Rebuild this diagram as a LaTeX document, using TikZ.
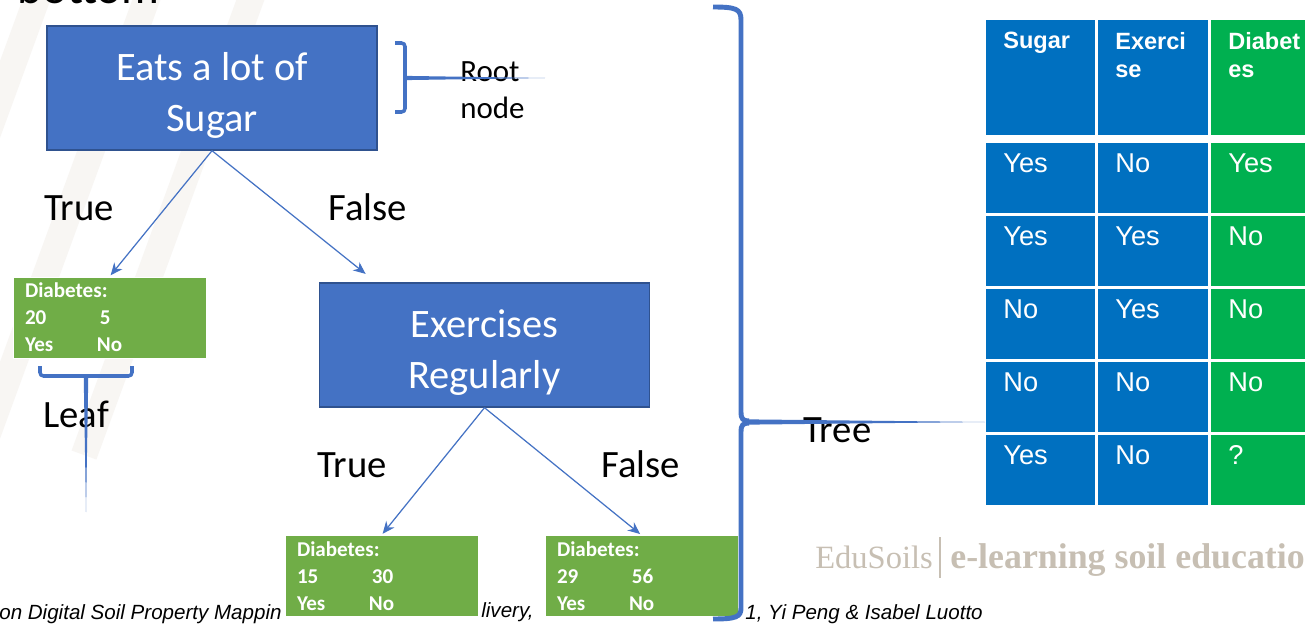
\documentclass[tikz,border=0pt]{standalone}
\usepackage{fontspec}
\setmainfont{Carlito}
\newfontfamily\arialfont{Liberation Sans}
\newfontfamily\timesfont{Liberation Serif}
\usetikzlibrary{arrows.meta}

\definecolor{nodeblue}{RGB}{68,114,196}
\definecolor{nodeedge}{RGB}{47,82,143}
\definecolor{leafgreen}{RGB}{112,173,71}
\definecolor{tabblue}{RGB}{0,112,192}
\definecolor{tabgreen}{RGB}{0,176,80}
\definecolor{logogray}{RGB}{199,191,179}
\definecolor{stripecol}{RGB}{248,246,243}

\newcommand{\toppad}{\rule{0pt}{0.85cm}}

\begin{document}
\begin{tikzpicture}[x=0.02cm, y=-0.02cm,
    decision/.style={draw=nodeedge, line width=0.8pt, fill=nodeblue, text=white, minimum width=6.6cm, minimum height=2.48cm, align=center, font=\fontsize{23}{29.3}\selectfont},
    leafbox/.style={draw=white, line width=0.4pt, fill=leafgreen, text=white, text width=3.38cm, inner xsep=0.24cm, minimum height=1.62cm, align=left, font=\bfseries\fontsize{12}{15.3}\selectfont},
    arr/.style={draw=nodeblue, line width=0.7pt, -{Stealth[length=7pt,width=6pt]}, shorten >=1pt},
    brace/.style={draw=nodeblue, line width=2pt, rounded corners=2pt},
    lbl/.style={anchor=base west, inner sep=0, font=\fontsize{22}{26}\selectfont},
    cell/.style={anchor=north west, inner sep=0, minimum width=2.18cm, minimum height=1.4cm},
    celltxt/.style={anchor=north west, inner sep=0, text=white, font=\arialfont\fontsize{15.5}{18}\selectfont},
    headtxt/.style={anchor=north west, inner sep=0, text=white, align=left, font=\arialfont\bfseries\fontsize{13.4}{16}\selectfont},
    foot/.style={anchor=base west, inner sep=0, font=\arialfont\itshape\fontsize{11.7}{14}\selectfont}
]
\useasboundingbox (0,0) rectangle (1305,625);
\clip (0,0) rectangle (1305,625);
\fill[white] (0,0) rectangle (1305,625);

% faint background stripes
\foreach \s in {40,150,254}
    \draw[stripecol, line width=15pt] (\s,-10) -- (\s-170,455);

% cut off heading
\node[lbl, font=\fontsize{27}{30}\selectfont] (heading) at (17,4) {bottom};

% footer line (partly hidden)
\node[foot] (footA) at (-1,619) {on Digital Soil Property Mappin};
\node[foot] (footB) at (481,617) {livery,};
\node[foot] (footC) at (745,619) {1, Yi Peng \& Isabel Luotto};

% the tree
\node[decision] (root) at (212,88) {\toppad Eats a lot of\\Sugar};
\node[decision] (exer) at (484.5,345) {\toppad Exercises\\Regularly};
\node[leafbox] (leafA) at (109.5,317.5) {Diabetes:\\\makebox[1.5cm][l]{20}5\\\makebox[1.44cm][l]{Yes}No};
\node[leafbox] (leafB) at (381.5,576) {Diabetes:\\\makebox[1.5cm][l]{15}30\\\makebox[1.44cm][l]{Yes}No};
\node[leafbox] (leafC) at (641.5,576) {Diabetes:\\\makebox[1.5cm][l]{29}56\\\makebox[1.44cm][l]{Yes}No};

\coordinate (exin) at (367,275);
\draw[arr] (root.south) -- (leafA.north);
\draw[arr] (root.south) -- (exin);
\draw[arr] (exer.south) -- (leafB.north);
\draw[arr] (exer.south) -- (leafC.north);

\node[lbl] (trueA) at (44,220) {True};
\node[lbl] (falseA) at (328,220) {False};
\node[lbl] (trueB) at (317,477) {True};
\node[lbl] (falseB) at (601,477) {False};

% annotations
\node[lbl, font=\fontsize{17.6}{20}\selectfont] (rootlbl) at (460,82) {Root};
\node[lbl, font=\fontsize{17.6}{20}\selectfont] (nodelbl) at (460,118) {node};
\node[lbl] (leaflbl) at (43,427) {Leaf};
\node[lbl] (treelbl) at (803,442) {Tree};

\coordinate (rootbr) at (405,78);
\coordinate (roottip) at (545,78);
\draw[brace] (395,43) -- (405,43) -- (405,112) -- (395,112);
\fill[nodeblue] ([yshift=1.2pt]rootbr) -- (roottip) -- ([yshift=-1.2pt]rootbr) -- cycle;

\coordinate (leafbr) at (86,376);
\coordinate (leaftip) at (86,512);
\draw[brace] (40,366) -- (40,376) -- (132,376) -- (132,366);
\fill[nodeblue] ([xshift=-1.3pt]leafbr) -- (leaftip) -- ([xshift=1.3pt]leafbr) -- cycle;

\coordinate (treebr) at (747,422);
\coordinate (treetip) at (985,422);
\draw[nodeblue, line width=2.8pt] (713,7) .. controls (736,7) and (741,9) .. (741,20) -- (741,412) .. controls (741,419) and (743,421) .. (749,421);
\draw[nodeblue, line width=2.8pt] (749,423) .. controls (743,423) and (741,425) .. (741,432) -- (741,608) .. controls (741,617) and (736,619) .. (713,619);
\fill[nodeblue] ([yshift=1.5pt]treebr) -- (treetip) -- ([yshift=-1.5pt]treebr) -- cycle;

% table
\node[cell, fill=tabblue, minimum height=2.3cm] (hA) at (986,20) {};
\node[cell, fill=tabblue, minimum height=2.3cm, minimum width=2.2cm] (hB) at (1098,20) {};
\node[cell, fill=tabgreen, minimum height=2.3cm, minimum width=2.2cm] (hC) at (1211,20) {};
\node[headtxt] (thA) at ([shift={(17,12)}]hA.north west) {Sugar};
\node[headtxt] (thB) at ([shift={(17,12)}]hB.north west) {Exerci\\se};
\node[headtxt] (thC) at ([shift={(17,12)}]hC.north west) {Diabet\\es};
\foreach \r/\sa/\sb/\sc [evaluate=\r as \ytop using 143+73*(\r-1)] in
    {1/Yes/No/Yes, 2/Yes/Yes/No, 3/No/Yes/No, 4/No/No/No, 5/Yes/No/?} {
    \node[cell, fill=tabblue] (c\r a) at (986,\ytop) {};
    \node[cell, fill=tabblue, minimum width=2.2cm] (c\r b) at (1098,\ytop) {};
    \node[cell, fill=tabgreen, minimum width=2.2cm] (c\r c) at (1211,\ytop) {};
    \node[celltxt] (t\r a) at ([shift={(17,10)}]c\r a.north west) {\sa};
    \node[celltxt] (t\r b) at ([shift={(17,10)}]c\r b.north west) {\sb};
    \node[celltxt] (t\r c) at ([shift={(17,10)}]c\r c.north west) {\sc};
}

% logo
\node[anchor=base west, inner sep=0, text=logogray, font=\timesfont\fontsize{18.5}{22}\selectfont] (edu) at (815,568) {EduSoils};
\draw[logogray, line width=0.6pt] (940,537) -- (940,578);
\node[anchor=base west, inner sep=0, text=logogray, font=\timesfont\bfseries\fontsize{20.4}{24}\selectfont] (elearn) at (950,568) {e-learning soil education};
\end{tikzpicture}
\end{document}
